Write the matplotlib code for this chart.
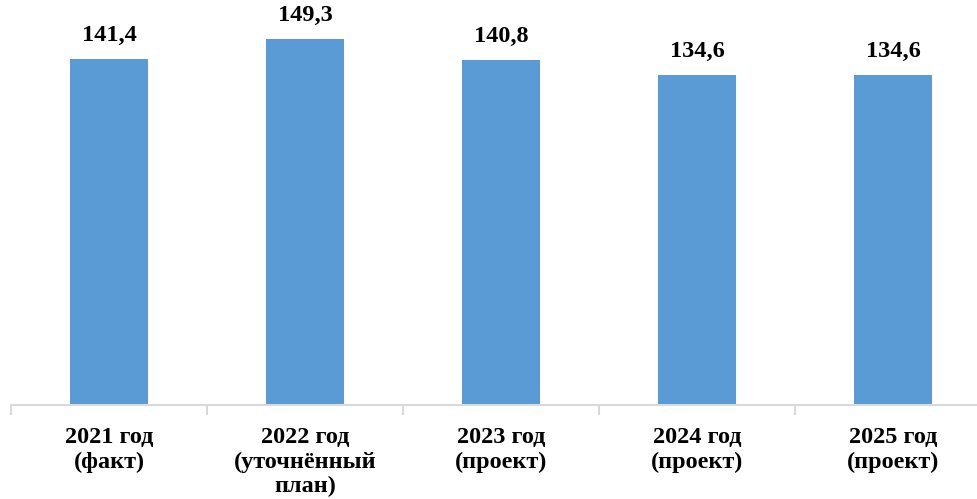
import matplotlib
matplotlib.use("Agg")
import matplotlib.pyplot as plt

categories = ["2021 год\n(факт)", "2022 год\n(уточнённый\nплан)", "2023 год\n(проект)",
              "2024 год\n(проект)", "2025 год\n(проект)"]
values = [141.4, 149.3, 140.8, 134.6, 134.6]
value_labels = ["141,4", "149,3", "140,8", "134,6", "134,6"]

plt.rcParams["font.family"] = ["Liberation Serif", "DejaVu Serif"]

W, H = 978, 499
fig = plt.figure(figsize=(W / 100, H / 100), dpi=100)
left_px, right_px = 11, 991
bottom_px, top_px = 405, 13
ax = fig.add_axes([left_px / W, 1 - bottom_px / H, (right_px - left_px) / W, (bottom_px - top_px) / H])

x = list(range(len(values)))
bars = ax.bar(x, values, width=0.4, color="#5B9BD5", zorder=2)
ax.set_xlim(-0.5, len(values) - 0.5)
ax.set_ylim(0, 160)

for rect, lab in zip(bars, value_labels):
    ax.annotate(lab, (rect.get_x() + rect.get_width() / 2, rect.get_height()),
                xytext=(0, 13), textcoords="offset points", ha="center", va="baseline",
                fontsize=17.5, fontweight="bold", color="black")

for s in ("top", "right", "left"):
    ax.spines[s].set_visible(False)
ax.spines["bottom"].set_color("#D9D9D9")
ax.spines["bottom"].set_linewidth(1.5)
ax.set_yticks([])

# category labels centred between boundary tick marks
ax.set_xticks([i - 0.5 for i in range(len(values) + 1)])
ax.set_xticklabels([])
ax.tick_params(axis="x", length=7, width=1.5, color="#D9D9D9", direction="out")
ax.set_xticks(x, minor=True)
ax.set_xticklabels(categories, minor=True, fontsize=17.5, fontweight="bold", linespacing=1.2)
ax.tick_params(axis="x", which="minor", length=0, pad=16)

fig.savefig("out.png", dpi=100)
